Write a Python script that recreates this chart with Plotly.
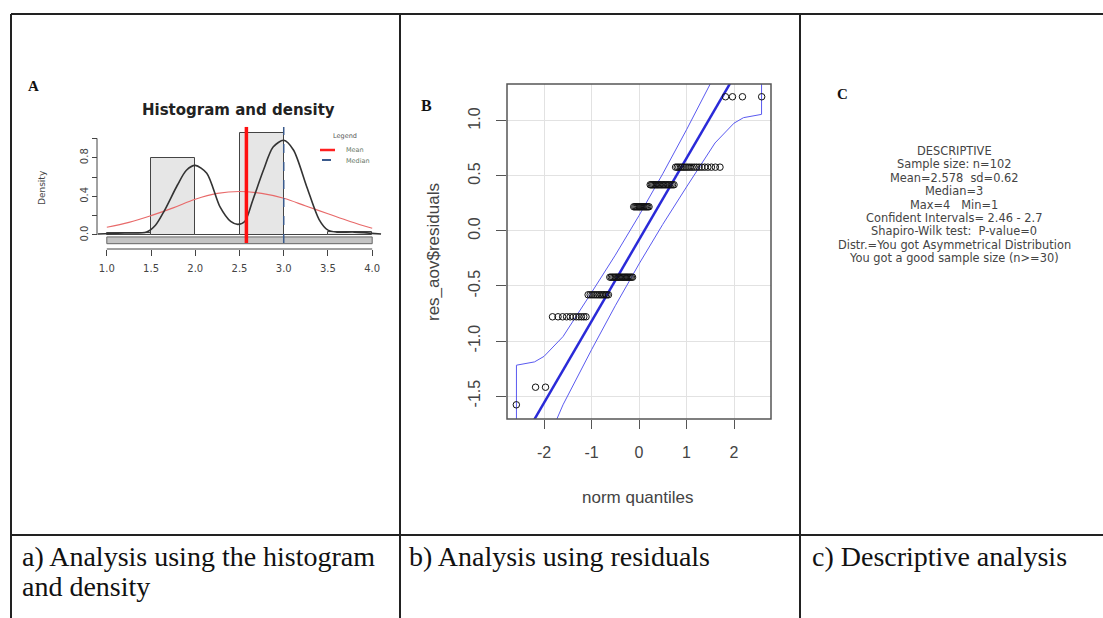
import numpy as np
import plotly.graph_objects as go
from statistics import NormalDist

W, H = 1103, 618

# ---- panel A: histogram and density ----
bin_edges = [1.0, 1.5, 2.0, 2.5, 3.0, 3.5, 4.0]
bin_density = [0.02, 0.80, 0.0, 1.06, 0.0, 0.03]
band_y = [-0.09, -0.02]

dens_x = [0.90, 1.20, 1.45, 1.55, 1.65, 1.80, 1.90, 2.00, 2.13, 2.28, 2.40, 2.48,
          2.56, 2.65, 2.77, 2.88, 3.00, 3.11, 3.26, 3.40, 3.50, 3.60, 3.80, 4.10]
dens_y = [0.01, 0.02, 0.03, 0.10, 0.25, 0.52, 0.67, 0.72, 0.64, 0.29, 0.14, 0.11,
          0.14, 0.36, 0.67, 0.91, 0.98, 0.88, 0.50, 0.16, 0.05, 0.03, 0.03, 0.01]

norm_x = [1.0, 1.25, 1.5, 1.75, 2.0, 2.25, 2.5, 2.75, 3.0, 3.25, 3.5, 3.75, 4.0]
norm_y = [0.08, 0.13, 0.20, 0.28, 0.37, 0.43, 0.45, 0.43, 0.38, 0.30, 0.22, 0.14, 0.07]

mean_val = 2.578
median_val = 3.0

a_xticks = [1.0, 1.5, 2.0, 2.5, 3.0, 3.5, 4.0]
a_yticks = [0.0, 0.2, 0.4, 0.6, 0.8, 1.0]
a_ylabels = ["0.0", "", "0.4", "", "0.8", ""]

# ---- panel B: qq plot of residuals ----
resid_levels = [-1.58, -1.42, -0.78, -0.58, -0.42, 0.22, 0.42, 0.58, 1.22]
resid_counts = [1, 2, 11, 13, 19, 14, 19, 19, 4]

env_z = [-2.58, -2.2, -2.0, -1.6, -1.0, -0.5, 0.0, 0.5, 1.0, 1.6, 2.0, 2.2, 2.58]
env_upper = [-1.22, -1.19, -1.14, -0.96, -0.56, -0.22, 0.14, 0.52, 0.92, 1.42, 1.82, 2.07, 2.60]
env_lower = [-2.76, -2.23, -1.98, -1.58, -1.08, -0.68, -0.30, 0.06, 0.40, 0.80, 0.98, 1.03, 1.06]

b_xticks = [-2, -1, 0, 1, 2]
b_yticks = [-1.5, -1.0, -0.5, 0.0, 0.5, 1.0]

# ---- panel C / captions ----
desc_lines = [
    "DESCRIPTIVE",
    "Sample size: n=102",
    "Mean=2.578\u00a0\u00a0sd=0.62",
    "Median=3",
    "Max=4\u00a0\u00a0\u00a0Min=1",
    "Confident Intervals= 2.46 - 2.7",
    "Shapiro-Wilk test:\u00a0\u00a0P-value=0",
    "Distr.=You got Asymmetrical Distribution",
    "You got a good sample size (n>=30)",
]
captions = [["a) Analysis using the histogram", "and density"],
            ["b) Analysis using residuals"],
            ["c) Descriptive analysis"]]


def px_x(x0, x1):
    return [x0 / W, x1 / W]


def px_y(y0, y1):
    return [1 - y1 / H, 1 - y0 / H]


SANS = "DejaVu Sans"
R_SANS = "Liberation Sans, Arial"
SERIF = "Liberation Serif, Times New Roman"

fig = go.Figure()

# histogram bars
centers = [(a + b) / 2 for a, b in zip(bin_edges[:-1], bin_edges[1:])]
widths = [b - a for a, b in zip(bin_edges[:-1], bin_edges[1:])]
fig.add_trace(go.Bar(x=centers, y=bin_density, width=widths,
                     marker=dict(color="#e6e6e6", line=dict(color="#444", width=1)),
                     xaxis="x", yaxis="y", showlegend=False))

a_usr_y = [-0.083, 1.118]
fig.add_trace(go.Scatter(x=norm_x, y=norm_y, mode="lines", line=dict(color="#e86a6a", width=1.2, shape="spline"),
                         xaxis="x", yaxis="y", showlegend=False))
fig.add_trace(go.Scatter(x=dens_x, y=dens_y, mode="lines", line=dict(color="#333", width=1.6, shape="spline", smoothing=0.8),
                         xaxis="x", yaxis="y", showlegend=False))
fig.add_trace(go.Scatter(x=[median_val] * 2, y=a_usr_y, mode="lines", line=dict(color="#3a5a8c", width=1.5, dash="dash"),
                         xaxis="x", yaxis="y", showlegend=False))
fig.add_trace(go.Scatter(x=[mean_val] * 2, y=a_usr_y, mode="lines", line=dict(color="#ff1010", width=3.5),
                         xaxis="x", yaxis="y", showlegend=False))

# qq plot
resid = np.repeat(resid_levels, resid_counts)
n = len(resid)
nd = NormalDist()
z = [nd.inv_cdf((i - 0.5) / n) for i in range(1, n + 1)]
q1, q3 = np.percentile(resid, [25, 75])
slope = (q3 - q1) / (nd.inv_cdf(0.75) - nd.inv_cdf(0.25))
intercept = q1 - slope * nd.inv_cdf(0.25)
b_xrange = [-2.779, 2.779]

fig.add_trace(go.Scatter(x=env_z + env_z[::-1] + env_z[:1], y=env_upper + env_lower[::-1] + env_upper[:1],
                         mode="lines", line=dict(color="#5a5af0", width=1),
                         xaxis="x2", yaxis="y2", showlegend=False))
fig.add_trace(go.Scatter(x=b_xrange, y=[intercept + slope * v for v in b_xrange], mode="lines",
                         line=dict(color="#2a2ad8", width=2.5), xaxis="x2", yaxis="y2", showlegend=False))
fig.add_trace(go.Scatter(x=z, y=resid, mode="markers",
                         marker=dict(symbol="circle-open", size=6.5, color="#111", line=dict(width=1)),
                         xaxis="x2", yaxis="y2", showlegend=False))

tickfont_a = dict(family=SANS, size=10, color="#444")
tickfont_b = dict(family=R_SANS, size=16, color="#444")

fig.update_layout(
    width=W, height=H, margin=dict(l=0, r=0, t=0, b=0),
    paper_bgcolor="white", plot_bgcolor="white",
    bargap=0,
    xaxis=dict(domain=px_x(90, 389), range=[0.81, 4.19], anchor="y",
               tickvals=a_xticks, ticktext=[f"{v:.1f}" for v in a_xticks],
               ticks="outside", ticklen=6, tickcolor="#444", showgrid=False, zeroline=False,
               showline=False, tickfont=tickfont_a, ticklabelstandoff=4),
    yaxis=dict(domain=px_y(120, 249), range=[-0.145, 1.19], anchor="free", position=97 / W,
               tickvals=a_yticks, ticktext=a_ylabels, tickangle=-90,
               ticks="outside", ticklen=5, tickcolor="#444", showgrid=False, zeroline=False,
               showline=False, tickfont=tickfont_a),
    xaxis2=dict(domain=px_x(507, 771), range=b_xrange, anchor="y2",
                tickvals=b_xticks, ticktext=[str(v) for v in b_xticks],
                ticks="outside", ticklen=9, tickcolor="#555", showgrid=True, gridcolor="#e2e2e2",
                zeroline=False, showline=False, tickfont=tickfont_b, ticklabelstandoff=10),
    yaxis2=dict(domain=px_y(84, 419), range=[-1.709, 1.336], anchor="x2",
                tickvals=b_yticks, ticktext=[f"{v:.1f}" for v in b_yticks], tickangle=-90,
                ticks="outside", ticklen=10, tickcolor="#555", showgrid=True, gridcolor="#e2e2e2",
                zeroline=False, showline=False, tickfont=tickfont_b, ticklabelstandoff=10),
)

shapes = []
# panel A axis lines
shapes.append(dict(type="line", xref="x", yref="paper", x0=a_xticks[0], x1=a_xticks[-1],
                   y0=1 - 249 / H, y1=1 - 249 / H, line=dict(color="#444", width=1)))
shapes.append(dict(type="line", xref="paper", yref="y", x0=97 / W, x1=97 / W,
                   y0=a_yticks[0], y1=a_yticks[-1], line=dict(color="#444", width=1)))
shapes.append(dict(type="rect", xref="x", yref="y", x0=bin_edges[0], x1=bin_edges[-1],
                   y0=band_y[0], y1=band_y[1], fillcolor="#c4c4c4", line=dict(color="#666", width=1),
                   layer="below"))
# panel B frame
shapes.append(dict(type="rect", xref="x2 domain", yref="y2 domain", x0=0, x1=1, y0=0, y1=1,
                   line=dict(color="#555", width=1.5)))
# legend keys in panel A
shapes.append(dict(type="line", xref="paper", yref="paper", x0=320 / W, x1=335 / W,
                   y0=1 - 150 / H, y1=1 - 150 / H, line=dict(color="#ff2020", width=2.5)))
shapes.append(dict(type="line", xref="paper", yref="paper", x0=322 / W, x1=331 / W,
                   y0=1 - 160 / H, y1=1 - 160 / H, line=dict(color="#3a5a8c", width=2)))
# table rules
rule = dict(color="#222", width=2)
for (x0, y0, x1, y1) in [(11, 14, W, 14), (11, 14, 11, H), (400, 14, 400, H),
                         (800, 14, 800, H), (11, 535, W, 535)]:
    shapes.append(dict(type="line", xref="paper", yref="paper", x0=x0 / W, x1=x1 / W,
                       y0=1 - y0 / H, y1=1 - y1 / H, line=rule))
fig.update_layout(shapes=shapes)


def note(text, x, y, size, family, color="#333", bold=False, xanchor="center", angle=0, pad=1):
    if bold:
        text = f"<b>{text}</b>"
    fig.add_annotation(text=text, x=x / W, y=1 - y / H, xref="paper", yref="paper",
                       xanchor=xanchor, yanchor="middle", showarrow=False, textangle=angle,
                       borderpad=pad, font=dict(family=family, size=size, color=color))


# panel A texts
note("A", 33, 86, 15, SERIF, color="#111", bold=True)
note("Histogram and density", 238, 110, 15, SANS, color="#222", bold=True)
note("Density", 42, 188, 9, SANS, color="#444", angle=-90)
note("Legend", 345, 136, 6.5, SANS, color="#555")
note("Mean", 344, 150, 6.5, SANS, color="#667766", xanchor="left")
note("Median", 344, 161, 6.5, SANS, color="#667766", xanchor="left")

# panel B texts
note("B", 426, 105, 16, SERIF, color="#111", bold=True)
note("res_aov$residuals", 433, 252, 17, R_SANS, color="#444", angle=-90)
note("norm quantiles", 638, 497, 17, R_SANS, color="#444")

# panel C texts
note("C", 842, 94, 15, SERIF, color="#111", bold=True)
for i, line in enumerate(desc_lines):
    note(line, 954, 151 + 13.4 * i, 11.4, SANS, color="#444", pad=0)

# captions
for col_x, lines in zip([20, 407, 810], captions):
    for j, line in enumerate(lines):
        note(line, col_x, 556 + 30 * j, 28, SERIF, color="#111", xanchor="left")

fig.write_html("out.html", config={"displayModeBar": False},
               post_script="document.body.style.margin='0';document.body.style.overflow='hidden';")
